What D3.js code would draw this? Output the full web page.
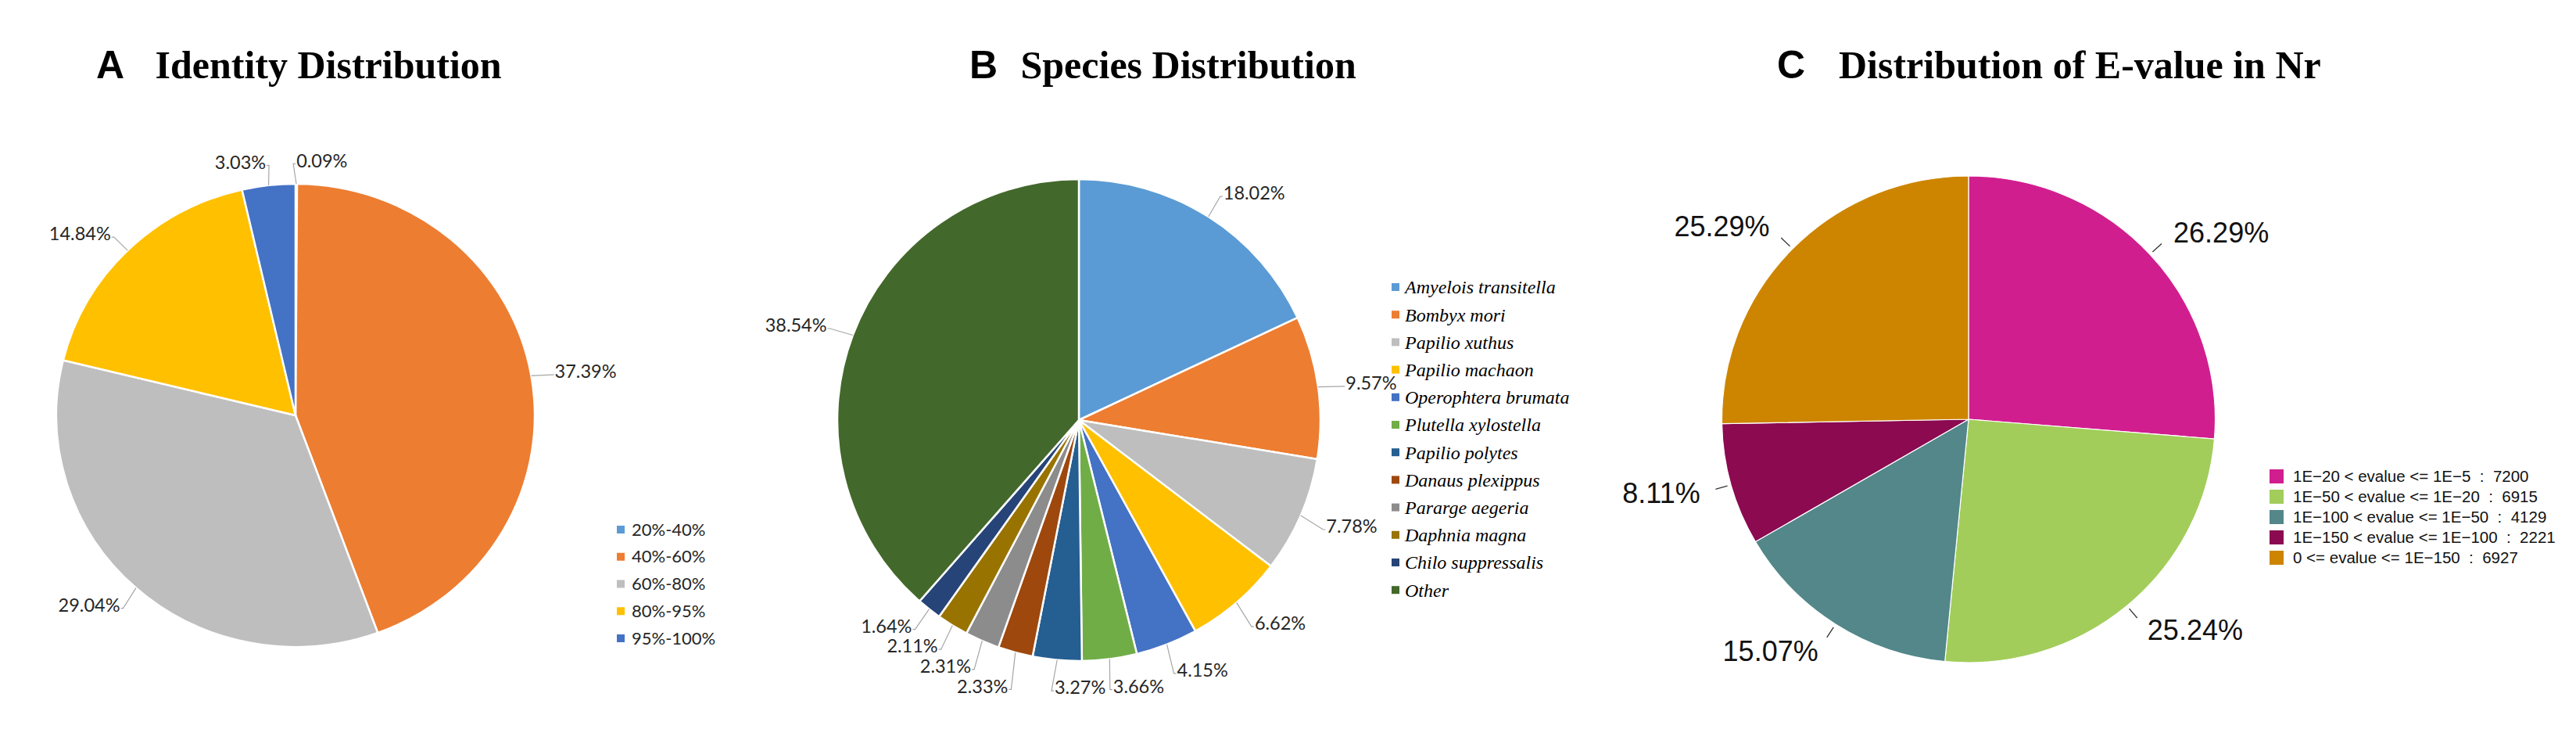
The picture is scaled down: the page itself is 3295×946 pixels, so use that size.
<!DOCTYPE html>
<html>
<head>
<meta charset="utf-8">
<script src="https://cdn.jsdelivr.net/npm/d3@7"></script>
<style>
  html, body { margin: 0; padding: 0; background: #ffffff; }
  svg { display: block; }
  text { white-space: pre; }
</style>
</head>
<body>
<svg id="chart" width="3295" height="946"></svg>
<script>
// ---------- DATA ----------
const identityCategories = ["20%-40%", "40%-60%", "60%-80%", "80%-95%", "95%-100%"];
const identityValues = [0.09, 37.39, 29.04, 14.84, 3.03];
const identityColors = ["#5B9BD5", "#ED7D31", "#BEBEBE", "#FFC000", "#4472C4"];

const speciesCategories = ["Amyelois transitella", "Bombyx mori", "Papilio xuthus", "Papilio machaon",
  "Operophtera brumata", "Plutella xylostella", "Papilio polytes", "Danaus plexippus",
  "Pararge aegeria", "Daphnia magna", "Chilo suppressalis", "Other"];
const speciesValues = [18.02, 9.57, 7.78, 6.62, 4.15, 3.66, 3.27, 2.33, 2.31, 2.11, 1.64, 38.54];
const speciesColors = ["#5B9BD5", "#ED7D31", "#BEBEBE", "#FFC000", "#4472C4", "#70AD47",
  "#255E91", "#9E480E", "#8C8C8C", "#997300", "#264478", "#43682B"];

const evalueCategories = ["1E\u221220 < evalue <= 1E\u22125", "1E\u221250 < evalue <= 1E\u221220",
  "1E\u2212100 < evalue <= 1E\u221250", "1E\u2212150 < evalue <= 1E\u2212100", "0 <= evalue <= 1E\u2212150"];
const evalueCounts = [7200, 6915, 4129, 2221, 6927];
const evalueColors = ["#D11E8F", "#A2CD5A", "#53878A", "#8B0A50", "#CD8500"];

const panelLetters = ["A", "B", "C"];
const panelTitles = ["Identity Distribution", "Species Distribution", "Distribution of E-value in Nr"];

// ---------- DRAW ----------
const svg = d3.select("#chart");

// Titles
const titleLayout = [
  { lx: 123, tx: 198.5 },
  { lx: 1240, tx: 1305.5 },
  { lx: 2273, tx: 2352 }
];
panelLetters.forEach((L, i) => {
  svg.append("text").attr("x", titleLayout[i].lx).attr("y", 100)
    .attr("font-family", "Liberation Sans, Arial, sans-serif").attr("font-weight", "bold")
    .attr("font-size", 50).attr("fill", "#000").text(L);
  svg.append("text").attr("x", titleLayout[i].tx).attr("y", 100)
    .attr("font-family", "Liberation Serif, Times New Roman, serif").attr("font-weight", "bold")
    .attr("font-size", 50).attr("fill", "#000").text(panelTitles[i]);
});

function drawPie(cfg) {
  const g = svg.append("g");
  const pie = d3.pie().sort(null).value(d => d);
  const arcs = pie(cfg.values);
  const arc = d3.arc().innerRadius(0).outerRadius(cfg.rx);
  const sy = cfg.ry / cfg.rx;
  const total = d3.sum(cfg.values);

  const pg = g.append("g").attr("transform", `translate(${cfg.cx},${cfg.cy}) scale(1,${sy})`);
  pg.selectAll("path").data(arcs).join("path")
    .attr("d", arc)
    .attr("fill", (d, i) => cfg.colors[i])
    .attr("stroke", "#ffffff")
    .attr("stroke-width", cfg.strokeW)
    .attr("vector-effect", "non-scaling-stroke")
    .attr("stroke-linejoin", "round");

  const pt = (a, k) => [cfg.cx + cfg.rx * k * Math.sin(a), cfg.cy - cfg.ry * k * Math.cos(a)];

  const lg = g.append("g");
  const tg = g.append("g");
  const labels = arcs.map((d, i) => {
    const a = (d.startAngle + d.endAngle) / 2;
    const s = Math.sin(a);
    const anchor = s >= -0.1 ? "start" : "end";
    const L = pt(a, cfg.k);
    const node = tg.append("text")
      .attr("x", L[0]).attr("y", L[1]).attr("dy", "0.35em")
      .attr("text-anchor", anchor)
      .attr("font-family", cfg.labelFont).attr("font-size", cfg.labelSize)
      .attr("fill", cfg.labelColor)
      .text(cfg.labelFormat(d.value, total));
    const bb = node.node().getBBox();
    return { a, anchor, x: L[0], y: L[1], node, w: bb.width, h: bb.height * 0.8 };
  });

  // simple collision relaxation (vertical)
  const box = l => {
    const x0 = l.anchor === "start" ? l.x : l.x - l.w;
    return [x0, l.y - l.h / 2, x0 + l.w, l.y + l.h / 2];
  };
  for (let it = 0; it < 60; it++) {
    let moved = false;
    for (let i = 0; i < labels.length; i++) {
      for (let j = i + 1; j < labels.length; j++) {
        const A = box(labels[i]), B = box(labels[j]);
        const pad = 3;
        if (A[0] < B[2] + pad && B[0] < A[2] + pad && A[1] < B[3] + pad && B[1] < A[3] + pad) {
          const top = labels[i].y <= labels[j].y ? labels[i] : labels[j];
          const bot = top === labels[i] ? labels[j] : labels[i];
          const need = (top.h / 2 + bot.h / 2 + pad) - (bot.y - top.y);
          if (need > 0) { top.y -= need / 2 + 0.2; bot.y += need / 2 + 0.2; moved = true; }
        }
      }
    }
    if (!moved) break;
  }

  labels.forEach(l => {
    l.node.attr("y", l.y);
    const dir = l.anchor === "start" ? 1 : -1;
    if (cfg.leader === "elbow") {
      const E = pt(l.a, 1.0);
      lg.append("polyline")
        .attr("points", [E, [l.x - dir * 4, l.y + 4], [l.x - dir * 1, l.y + 4]].map(p => p.join(",")).join(" "))
        .attr("fill", "none").attr("stroke", "#A6A6A6").attr("stroke-width", 1.2);
    } else {
      const E1 = pt(l.a, 1.015), E2 = pt(l.a, 1.065);
      lg.append("line").attr("x1", E1[0]).attr("y1", E1[1]).attr("x2", E2[0]).attr("y2", E2[1])
        .attr("stroke", "#333").attr("stroke-width", 1.3);
    }
  });
}

function drawLegend(cfg) {
  const g = svg.append("g");
  cfg.items.forEach((t, i) => {
    const y = cfg.y0 + i * cfg.dy;
    g.append("rect").attr("x", cfg.x).attr("y", y - cfg.sq / 2).attr("width", cfg.sq).attr("height", cfg.sq)
      .attr("fill", cfg.colors[i]);
    g.append("text").attr("x", cfg.tx).attr("y", y).attr("dy", "0.35em")
      .attr("font-family", cfg.font).attr("font-size", cfg.size)
      .attr("font-style", cfg.style || "normal")
      .attr("letter-spacing", cfg.spacing || 0)
      .attr("fill", cfg.color).text(t);
  });
}

// Panel A
drawPie({
  cx: 378, cy: 531, rx: 306, ry: 296,
  values: identityValues, colors: identityColors, strokeW: 2.5, k: 1.1,
  leader: "elbow", labelFont: "Lato, sans-serif", labelSize: 23.5, labelColor: "#262626",
  labelFormat: v => v.toFixed(2) + "%"
});
drawLegend({
  items: identityCategories, colors: identityColors,
  x: 789, tx: 808, y0: 677, dy: 34.75, sq: 10,
  font: "Lato, sans-serif", size: 22, color: "#262626"
});

// Panel B
drawPie({
  cx: 1380, cy: 537, rx: 309, ry: 308,
  values: speciesValues, colors: speciesColors, strokeW: 2.5, k: 1.115,
  leader: "elbow", labelFont: "Lato, sans-serif", labelSize: 23.5, labelColor: "#262626",
  labelFormat: v => v.toFixed(2) + "%"
});
drawLegend({
  items: speciesCategories, colors: speciesColors,
  x: 1780, tx: 1797, y0: 367, dy: 35.2, sq: 10,
  font: "Liberation Serif, Times New Roman, serif", size: 24, style: "italic", color: "#000"
});

// Panel C
drawPie({
  cx: 2518, cy: 536, rx: 315.5, ry: 311,
  values: evalueCounts, colors: evalueColors, strokeW: 1.2, k: 1.13,
  leader: "tick", labelFont: "Liberation Sans, Arial, sans-serif", labelSize: 36, labelColor: "#111",
  labelFormat: (v, tot) => (v / tot * 100).toFixed(2) + "%"
});
drawLegend({
  items: evalueCategories.map((c, i) => c + "  :  " + evalueCounts[i]), colors: evalueColors,
  x: 2903, tx: 2933, y0: 609, dy: 26, sq: 18,
  font: "Liberation Sans, Arial, sans-serif", size: 20.5, spacing: 0, color: "#111"
});
</script>
</body>
</html>
